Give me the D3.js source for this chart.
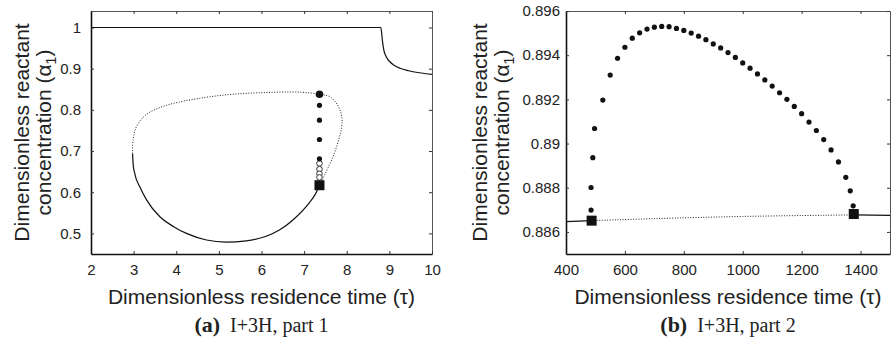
<!DOCTYPE html>
<html>
<head>
<meta charset="utf-8">
<script src="https://cdn.jsdelivr.net/npm/d3@7"></script>
<style>
  body { margin: 0; background: #fff; }
  svg text { fill: #222; }
  .tick line { stroke: #333; }
  .tick text { font-family: "Liberation Sans", Arial, sans-serif; font-size: 15px; }
</style>
</head>
<body>
<div id="chart"></div>
<script>
// (a) I+3H, part 1
var aXTicks = [2, 3, 4, 5, 6, 7, 8, 9, 10];
var aYTicks = [0.5, 0.6, 0.7, 0.8, 0.9, 1];
// upper steady state branch (solid)
var aUpperTau = [2, 8.8, 8.82, 8.84, 8.87, 8.92, 9.0, 9.1, 9.25, 9.45, 9.7, 10];
var aUpperAlpha = [1, 1, 0.985, 0.965, 0.945, 0.93, 0.918, 0.909, 0.901, 0.895, 0.89, 0.886];
// isola, stable part (solid)
var aStableTau = [2.975, 2.99, 3.02, 3.15, 3.3, 3.61, 3.93, 4.24, 4.71, 5.17, 5.64, 6.11, 6.42, 6.73, 7.12, 7.25, 7.36];
var aStableAlpha = [0.694, 0.667, 0.648, 0.612, 0.582, 0.541, 0.517, 0.5, 0.484, 0.479, 0.482, 0.493, 0.508, 0.532, 0.574, 0.593, 0.616];
// isola, unstable part (dotted)
var aUnstableTau = [2.975, 2.99, 3.07, 3.3, 3.77, 4.55, 5.33, 6.11, 6.89, 7.36, 7.6, 7.75, 7.85, 7.89, 7.87, 7.79, 7.68, 7.56, 7.44, 7.36];
var aUnstableAlpha = [0.694, 0.728, 0.76, 0.789, 0.811, 0.828, 0.838, 0.842, 0.843, 0.838, 0.832, 0.817, 0.797, 0.777, 0.752, 0.72, 0.687, 0.659, 0.634, 0.616];
// periodic orbits (max alpha)
var aHopfTau = [7.36];
var aHopfAlpha = [0.617];
var aFilledTau = [7.36, 7.36, 7.36, 7.36, 7.36];
var aFilledAlpha = [0.838, 0.811, 0.775, 0.728, 0.681];
var aOpenTau = [7.36, 7.36, 7.36, 7.36];
var aOpenAlpha = [0.67, 0.656, 0.645, 0.636];

// (b) I+3H, part 2
var bXTicks = [400, 600, 800, 1000, 1200, 1400];
var bYTicks = [0.886, 0.888, 0.89, 0.892, 0.894, 0.896];
var bLeftTau = [400, 487];
var bLeftAlpha = [0.88647, 0.88651];
var bMidTau = [487, 700, 1000, 1377];
var bMidAlpha = [0.88651, 0.8866, 0.8867, 0.88677];
var bRightTau = [1377, 1500];
var bRightAlpha = [0.88677, 0.88675];
var bHopfTau = [487, 1377];
var bHopfAlpha = [0.88651, 0.88681];
var bOrbitTau = [485, 485, 491, 497, 525, 550, 575, 600, 625, 650, 675, 700, 725, 750, 775, 800, 825, 850,
  875, 900, 925, 950, 975, 1000, 1025, 1050, 1075, 1100, 1125, 1150, 1175, 1200, 1225, 1250, 1275, 1300,
  1325, 1350, 1365, 1375];
var bOrbitAlpha = [0.88699, 0.88801, 0.88936, 0.89068, 0.89197, 0.8931, 0.89386, 0.89436, 0.89477, 0.89501,
  0.89518, 0.89527, 0.8953, 0.89529, 0.89521, 0.89512, 0.895, 0.89486, 0.8947, 0.89451, 0.89433, 0.89412,
  0.8939, 0.89365, 0.89341, 0.89315, 0.89288, 0.8926, 0.8923, 0.892, 0.89168, 0.89135, 0.89097, 0.89059,
  0.89018, 0.88971, 0.88917, 0.88847, 0.88786, 0.88718];

var svg = d3.select("#chart").append("svg").attr("width", 893).attr("height", 339);

function zip(xs, ys) {
  return xs.map(function(d, i) { return [d, ys[i]]; });
}

function setUpPanel(p) {
  var x = d3.scaleLinear().domain(p.xDomain).range([p.left, p.right]);
  var y = d3.scaleLinear().domain(p.yDomain).range([p.bottom, p.top]);
  var g = svg.append("g");

  // mirror ticks on top and right
  g.append("g").attr("transform", "translate(0," + p.top + ")")
    .call(d3.axisTop(x).tickValues(p.xTicks).tickSize(-3).tickSizeOuter(0).tickFormat(""))
    .select(".domain").attr("stroke", "#555").attr("stroke-width", 1);
  g.append("g").attr("transform", "translate(" + p.right + ",0)")
    .call(d3.axisRight(y).tickValues(p.yTicks).tickSize(-3).tickSizeOuter(0).tickFormat(""))
    .select(".domain").attr("stroke", "#555").attr("stroke-width", 1);
  var xa = g.append("g").attr("transform", "translate(0," + p.bottom + ")")
    .call(d3.axisBottom(x).tickValues(p.xTicks).tickSize(-3).tickSizeOuter(0).tickPadding(10)
      .tickFormat(function(d) { return String(d); }));
  xa.select(".domain").attr("stroke", "#111").attr("stroke-width", 1.6);
  var ya = g.append("g").attr("transform", "translate(" + p.left + ",0)")
    .call(d3.axisLeft(y).tickValues(p.yTicks).tickSize(-3).tickSizeOuter(0).tickPadding(p.yPad)
      .tickFormat(function(d) { return String(d); }));
  ya.select(".domain").attr("stroke", "#111").attr("stroke-width", 1.6);

  var plot = g.append("g");
  var line = d3.line().x(function(d) { return x(d[0]); }).y(function(d) { return y(d[1]); });
  p.solid.forEach(function(s) {
    plot.append("path").attr("d", line.curve(d3.curveMonotoneX)(s)).attr("fill", "none")
      .attr("stroke", "#111").attr("stroke-width", 1.2);
  });
  p.dotted.forEach(function(s) {
    plot.append("path").attr("d", line.curve(d3.curveCatmullRom)(s)).attr("fill", "none").attr("stroke", "#222")
      .attr("stroke-width", 1).attr("stroke-dasharray", "1,1.6");
  });
  plot.selectAll("circle.open").data(p.open).enter().append("circle").attr("class", "open")
    .attr("cx", function(d) { return x(d[0]); }).attr("cy", function(d) { return y(d[1]); })
    .attr("r", 2.8).attr("fill", "#fff").attr("stroke", "#333").attr("stroke-width", 1);
  plot.selectAll("circle.filled").data(p.filled).enter().append("circle").attr("class", "filled")
    .attr("cx", function(d) { return x(d[0]); }).attr("cy", function(d) { return y(d[1]); })
    .attr("r", function(d, i) { return i == 0 && p.bigFirst ? 3.8 : 2.6; }).attr("fill", "#111");
  plot.selectAll("rect").data(p.squares).enter().append("rect")
    .attr("x", function(d) { return x(d[0]) - 5; }).attr("y", function(d) { return y(d[1]) - 5; })
    .attr("width", 10).attr("height", 10).attr("fill", "#111");

  var cx = (p.left + p.right) / 2;
  g.append("text").attr("x", cx).attr("y", 304).attr("text-anchor", "middle")
    .style("font-family", "Liberation Sans, Arial, sans-serif").style("font-size", "21px")
    .text("Dimensionless residence time (\u03c4)");
  var cy = (p.top + p.bottom) / 2;
  var yt = g.append("text").attr("transform", "translate(" + (p.left - p.yTitle) + "," + cy + ") rotate(-90)")
    .attr("text-anchor", "middle")
    .style("font-family", "Liberation Sans, Arial, sans-serif").style("font-size", "21px");
  yt.append("tspan").attr("x", 0).attr("y", 0).text("Dimensionless reactant");
  var l2 = yt.append("tspan").attr("x", 0).attr("y", 22).text("concentration (\u03b1");
  l2.append("tspan").attr("dy", 5).style("font-size", "14px").text("1");
  l2.append("tspan").attr("dy", -5).text(")");

  var cap = g.append("text").attr("x", cx).attr("y", 332).attr("text-anchor", "middle")
    .style("font-family", "Liberation Serif, Times New Roman, serif").style("font-size", "20px");
  cap.append("tspan").style("font-weight", "bold").style("font-size", "22px").text(p.tag);
  cap.append("tspan").attr("dx", 10).text(p.caption);
}

setUpPanel({
  left: 91, right: 432, top: 11, bottom: 254,
  xDomain: [2, 10], yDomain: [0.45, 1.04],
  xTicks: aXTicks, yTicks: aYTicks, yPad: 10, yTitle: 62,
  solid: [zip(aUpperTau, aUpperAlpha), zip(aStableTau, aStableAlpha)],
  dotted: [zip(aUnstableTau, aUnstableAlpha)],
  open: zip(aOpenTau, aOpenAlpha),
  filled: zip(aFilledTau, aFilledAlpha), bigFirst: true,
  squares: zip(aHopfTau, aHopfAlpha),
  tag: "(a)", caption: "I+3H, part 1"
});

setUpPanel({
  left: 566, right: 890, top: 11, bottom: 254,
  xDomain: [400, 1500], yDomain: [0.885, 0.896],
  xTicks: bXTicks, yTicks: bYTicks, yPad: 6, yTitle: 79,
  solid: [zip(bLeftTau, bLeftAlpha), zip(bRightTau, bRightAlpha)],
  dotted: [zip(bMidTau, bMidAlpha)],
  open: [],
  filled: zip(bOrbitTau, bOrbitAlpha), bigFirst: false,
  squares: zip(bHopfTau, bHopfAlpha),
  tag: "(b)", caption: "I+3H, part 2"
});
</script>
</body>
</html>
